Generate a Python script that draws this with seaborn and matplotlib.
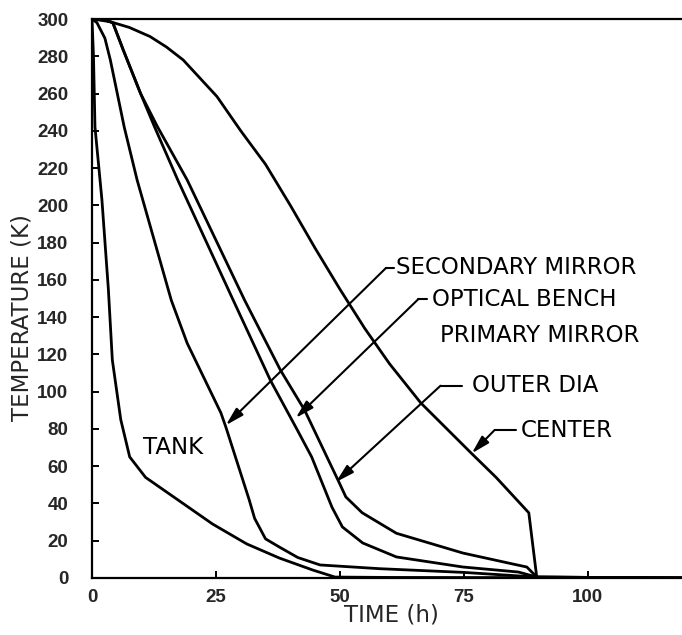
import numpy as np
import pandas as pd
import matplotlib
matplotlib.use("Agg")
import matplotlib.pyplot as plt
import seaborn as sns

# ---- data ----
tank_time = [0, 0.3, 0.6, 2.0, 3.3, 4.1, 5.8, 7.6, 10.8, 17.5, 24.3, 31.2, 37.8, 44.5, 49.0, 60, 90, 119]
tank_temp = [300, 280, 242, 203, 155, 117, 85, 65, 54, 41.6, 29, 18.3, 10.7, 4.3, 0.5, 0.3, 0.2, 0]

sec_time = [0, 1.0, 2.6, 3.7, 6.5, 9.1, 16.0, 19.2, 26.0, 27.0, 31.7, 32.8, 35.0, 37.8, 41.5, 46.0, 58.0, 75, 89.7, 119]
sec_temp = [300, 298, 289.7, 278, 242, 213.6, 149, 126, 88.6, 81, 42, 32, 21, 16.6, 11, 7, 5, 3, 0.5, 0]

ob_time = [0, 2.0, 4.2, 6.3, 9.8, 12.6, 17.3, 28.5, 36.0, 41.5, 44.3, 48.4, 50.5, 54.6, 61.4, 74.8, 86.0, 89.7, 119]
ob_temp = [300, 300, 298, 283.4, 260, 242.2, 213.6, 149, 106, 79, 65, 38, 27.4, 18.8, 11.3, 5.9, 3.2, 0.5, 0]

od_time = [0, 2.0, 4.2, 6.3, 9.8, 13.2, 19.2, 30.8, 38.0, 42.9, 49.8, 51.2, 54.5, 61.4, 74.8, 84.9, 87.7, 89.3, 90, 119]
od_temp = [300, 300, 298, 283.4, 260, 242.2, 213.6, 149, 111.6, 90, 51.5, 43.5, 35, 24, 13.4, 7.5, 5.9, 1.6, 0, 0]

c_time = [0, 3.6, 7.5, 11.7, 15.0, 18.4, 25.2, 30.0, 35.0, 40.0, 45.0, 50.0, 55.0, 60.0, 66.3, 76.5, 81.5, 88.1, 89.7, 119]
c_temp = [300, 298.6, 295.5, 290.6, 285, 278, 258.4, 240, 222, 200, 177, 155, 134, 115, 94, 67, 54, 35, 0.5, 0]

series_names = ["TANK", "SECONDARY MIRROR", "OPTICAL BENCH", "OUTER DIA", "CENTER"]
x_ticks = [0, 25, 50, 75, 100]
y_ticks = list(range(0, 301, 20))

frames = []
for name, t, T in zip(series_names,
                      [tank_time, sec_time, ob_time, od_time, c_time],
                      [tank_temp, sec_temp, ob_temp, od_temp, c_temp]):
    frames.append(pd.DataFrame({"time": t, "temp": T, "series": name}))
df = pd.concat(frames, ignore_index=True)

sns.set_style("ticks")
plt.rcParams["font.family"] = ["DejaVu Sans"]

fig = plt.figure(figsize=(6.82, 6.35), dpi=100)
ax = fig.add_axes([92 / 682, 57 / 635, 590 / 682, 559 / 635])

sns.lineplot(data=df, x="time", y="temp", units="series", estimator=None,
             sort=False, color="black", lw=2.0, ax=ax, legend=False)

ax.set_xlim(0, 119)
ax.set_ylim(0, 300)
ax.set_xticks(x_ticks)
ax.set_yticks(y_ticks)

tick_font = dict(family=["Liberation Sans"], weight="bold", size=13.5)
ax.set_xticklabels([str(v) for v in x_ticks], fontdict=tick_font)
ax.set_yticklabels([str(v) for v in y_ticks], fontdict=tick_font)
ax.tick_params(axis="both", direction="in", length=5, width=1.4, color="black")
ax.tick_params(axis="y", pad=17)
ax.tick_params(axis="x", pad=8)

for side in ["left", "bottom", "top"]:
    ax.spines[side].set_linewidth(1.6)
    ax.spines[side].set_color("black")
ax.spines["right"].set_visible(False)

ax.set_xlabel("TIME (h)", fontsize=16.5)
ax.set_ylabel("TEMPERATURE (K)", fontsize=16.5)
ax.xaxis.label.set_va("center")
ax.xaxis.set_label_coords(0.508, -0.066)
ax.yaxis.label.set_va("center")
ax.yaxis.set_label_coords(-0.118, 0.466)

ann_font = dict(fontsize=16.5, color="black", va="center", ha="left")
arrow = dict(arrowstyle="-|>,head_length=1.1,head_width=0.3", color="black",
             lw=1.5, shrinkA=0, shrinkB=0)

# SECONDARY MIRROR
ax.annotate("", xy=(27.0, 82.0), xytext=(59.3, 166.4), arrowprops=arrow)
ax.plot([59.3, 61.0], [166.4, 166.4], color="black", lw=1.5)
ax.text(61.3, 166.4, "SECONDARY MIRROR", **ann_font)
# OPTICAL BENCH
ax.annotate("", xy=(41.1, 85.9), xytext=(65.8, 149.6), arrowprops=arrow)
ax.plot([65.8, 67.6], [149.6, 149.6], color="black", lw=1.5)
ax.text(68.5, 149.6, "OPTICAL BENCH", **ann_font)
# PRIMARY MIRROR
ax.text(70.2, 130.4, "PRIMARY MIRROR", **ann_font)
# OUTER DIA
ax.annotate("", xy=(49.2, 51.5), xytext=(70.3, 103.2), arrowprops=arrow)
ax.plot([70.3, 74.7], [103.2, 103.2], color="black", lw=1.5)
ax.text(76.7, 103.2, "OUTER DIA", **ann_font)
# CENTER
ax.annotate("", xy=(76.6, 66.9), xytext=(81.2, 79.4), arrowprops=arrow)
ax.plot([81.2, 85.6], [79.4, 79.4], color="black", lw=1.5)
ax.text(86.5, 79.4, "CENTER", **ann_font)
# TANK
ax.text(16.4, 69.8, "TANK", fontsize=16.5, color="black", va="center", ha="center")

fig.savefig("out.png", dpi=100)
